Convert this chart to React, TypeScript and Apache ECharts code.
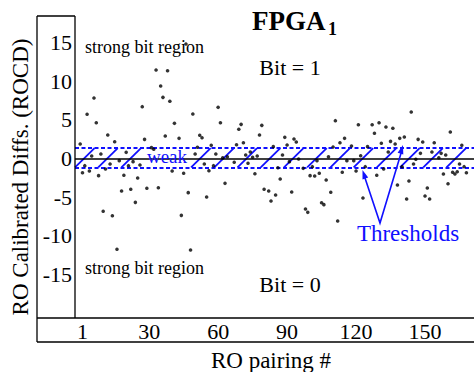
import React, { useEffect, useRef } from "react";
import * as echarts from "echarts";

// RO pairing number (x) and calibrated difference ROCD (y)
const roPairing = [
  0, 1, 2, 3, 4, 5, 6, 7, 8, 9,
  10, 11, 12, 13, 14, 15, 16, 17, 18, 19,
  20, 21, 22, 23, 24, 25, 26, 27, 28, 29,
  31, 32, 33, 34, 35, 36, 37, 38, 39, 40,
  41, 43, 44, 45, 46, 47, 48, 49, 50, 51,
  52, 53, 54, 55, 56, 57, 58, 59, 60, 61,
  62, 63, 64, 67, 68, 69, 70, 71, 72, 73,
  74, 75, 76, 77, 78, 79, 80, 82, 83, 84,
  85, 86, 87, 88, 89, 90, 91, 92, 93, 94,
  95, 97, 98, 99, 100, 101, 102, 103, 104, 105,
  106, 107, 108, 109, 110, 111, 112, 113, 114, 115,
  116, 118, 119, 120, 121, 122, 123, 124, 125, 127,
  128, 129, 130, 131, 132, 133, 134, 135, 136, 137,
  138, 139, 140, 141, 142, 143, 144, 145, 146, 147,
  148, 149, 150, 151, 152, 153, 154, 156, 157, 158,
  159, 160, 161, 162, 163, 164, 165, 166, 167, 168,
];
const rocd = [
  1.88, -1.84, -0.93, 5.72, -1.62, 0.32, 7.82, 4.63, -2.22, 0.58,
  -6.83, -1.36, 3.04, -0.71, -7.4, 2.17, -11.74, -0.28, -4.2, -2.17,
  0.8, -0.93, -3.98, -0.41, -5.67, -2.52, -0.84, 6.7, 2.48, -3.85,
  1.4, 1.19, 11.44, -3.78, 9.38, 7.91, 2.91, 11.35, 7.4, -1.62,
  4.55, 2.61, -7.35, -1.91, 14.81, -4.42, -11.83, 5.75, 0.58, 1.45,
  3.0, 2.69, -0.71, -4.98, -1.58, 1.71, -0.93, 0.58, 6.62, 4.63,
  0.1, -3.21, 0.23, -0.49, 1.78, 3.78, 4.42, 2.04, 0.45, -0.62,
  0.84, 0.16, -1.97, 0.32, 3.04, 4.29, -3.98, -4.2, -5.5, 1.53,
  -4.72, -1.19, -2.65, 0.45, 2.74, 1.75, -0.41, -4.33, 2.52, 2.13,
  -0.06, -1.27, -6.53, -6.96, -2.22, -1.06, -2.26, -0.28, -1.91, -5.72,
  -5.97, -2.78, 0.23, -4.37, 1.49, 4.89, -8.08, 2.04, -1.78, 2.61,
  -0.28, 1.62, -0.28, -1.62, 4.37, 0.36, -5.11, -1.06, 1.53, 4.37,
  3.26, -2.17, 4.63, 1.97, -1.36, 4.07, 0.84, 2.22, 3.91, 1.88,
  -3.43, 2.61, -1.06, 2.78, -5.24, -2.91, 6.01, -0.71, -0.1, 2.48,
  0.67, 2.13, -4.85, -3.81, -5.24, 0.84, 2.04, 0.1, 0.67, -2.0,
  0.45, -3.26, 3.43, -1.78, -2.0, -1.71, -0.71, 1.71, -1.06, -1.84,
];

const xTicks = [1, 30, 60, 90, 120, 150];
const yTicks = [-15, -10, -5, 0, 5, 10, 15];

const upperThreshold = 1.35;
const lowerThreshold = -1.15;

const X_MIN = -2.26;
const X_MAX = 171.3;
const Y_MIN = -20.63;
const Y_MAX = 18.43;

const SERIF = "Liberation Serif";
const BLUE = "#1010ff";

export default function App() {
  const ref = useRef<HTMLDivElement>(null);

  useEffect(() => {
    if (!ref.current) return;
    const chart = echarts.init(ref.current, undefined, { renderer: "svg" });

    const points = roPairing.map((x, i) => [x, rocd[i]]);

    // hatch pattern inside the weak band (decorative, period of 10.1 pairings)
    const hatch: any[] = [];
    for (let k = 0; k <= 16; k++) {
      if (k === 3 || k === 4) continue;
      const x0 = X_MIN + 10.1 * k;
      hatch.push({ coords: [[x0, lowerThreshold], [x0 + 8.5, upperThreshold]] });
    }

    const frame = { stroke: "#000", lineWidth: 1.3 };
    const txt = (x: number, y: number, text: string, size: number, extra: any = {}) => ({
      type: "text",
      x,
      y,
      z: 20,
      style: {
        text,
        fontFamily: SERIF,
        fontSize: size,
        fill: "#000",
        align: "center",
        verticalAlign: "middle",
        ...extra,
      },
    });

    const staticGraphic: any[] = [
      { type: "rect", z: 5, shape: { x: 141, y: 150, width: 50, height: 15 }, style: { fill: "#fff" } },
      txt(167, 156, "weak", 19, { fill: BLUE }),
      { type: "line", z: 20, shape: { x1: 37, y1: 16, x2: 75, y2: 16 }, style: frame },
      { type: "line", z: 20, shape: { x1: 37, y1: 16, x2: 37, y2: 342 }, style: frame },
      { type: "line", z: 20, shape: { x1: 75, y1: 16, x2: 75, y2: 318 }, style: frame },
      { type: "line", z: 20, shape: { x1: 37, y1: 318, x2: 474, y2: 318 }, style: frame },
      { type: "line", z: 20, shape: { x1: 37, y1: 342, x2: 474, y2: 342 }, style: frame },
      {
        type: "text",
        x: 20,
        y: 177,
        rotation: Math.PI / 2,
        z: 20,
        style: {
          text: "RO Calibrated Diffs. (ROCD)",
          fontFamily: SERIF,
          fontSize: 23,
          fill: "#000",
          align: "center",
          verticalAlign: "middle",
        },
      },
      txt(271, 360, "RO pairing #", 23),
      txt(252, 21, "FPGA", 27, { align: "left", fontWeight: "bold" }),
      txt(328, 29, "1", 18, { align: "left", fontWeight: "bold" }),
      txt(290, 67, "Bit = 1", 22),
      txt(290, 284, "Bit = 0", 22),
      txt(85, 47, "strong bit region", 18, { align: "left" }),
      txt(85, 268, "strong bit region", 18, { align: "left" }),
      txt(408, 233, "Thresholds", 23, { fill: BLUE }),
      {
        type: "polyline",
        z: 20,
        shape: { points: [[364, 175], [380, 223], [402, 150]] },
        style: { stroke: BLUE, lineWidth: 1.6, fill: null },
      },
      {
        type: "polygon",
        z: 20,
        shape: { points: [[362.5, 170], [368.2, 177.6], [362.5, 179.5]] },
        style: { fill: BLUE },
      },
      {
        type: "polygon",
        z: 20,
        shape: { points: [[403, 145], [403.3, 154.4], [397.6, 152.7]] },
        style: { fill: BLUE },
      },
    ];

    chart.setOption({
      animation: false,
      backgroundColor: "#fff",
      textStyle: { fontFamily: SERIF },
      grid: { left: 75, right: 0, top: 16, bottom: 54, containLabel: false },
      xAxis: {
        type: "value",
        min: X_MIN,
        max: X_MAX,
        axisLine: { show: false },
        axisTick: { show: false },
        splitLine: { show: false },
        axisLabel: { show: false },
      },
      yAxis: {
        type: "value",
        min: Y_MIN,
        max: Y_MAX,
        axisLine: { show: false },
        axisTick: { show: false },
        splitLine: { show: false },
        axisLabel: { show: false },
      },
      series: [
        {
          type: "line",
          data: [],
          z: 1,
          markLine: {
            silent: true,
            symbol: "none",
            label: { show: false },
            lineStyle: { color: "#000", type: "solid", width: 1.5 },
            data: [{ yAxis: 0 }],
          },
        },
        {
          type: "lines",
          coordinateSystem: "cartesian2d",
          z: 2,
          silent: true,
          lineStyle: { color: BLUE, width: 1.8, opacity: 1 },
          data: hatch,
        },
        {
          type: "line",
          data: [],
          z: 10,
          markLine: {
            silent: true,
            symbol: "none",
            label: { show: false },
            lineStyle: { color: BLUE, type: [4, 2.5], width: 1.8 },
            data: [{ yAxis: upperThreshold }, { yAxis: lowerThreshold }],
          },
        },
        {
          type: "scatter",
          z: 11,
          symbol: "circle",
          symbolSize: 3.6,
          itemStyle: { color: "#000" },
          data: points,
        },
      ],
      graphic: staticGraphic,
    });

    // tick labels placed through the axes' own scales
    const tickLabels: any[] = [];
    xTicks.forEach((v) => {
      const px = chart.convertToPixel({ xAxisIndex: 0 }, v) as number;
      tickLabels.push(txt(px, 331, String(v), 22));
    });
    yTicks.forEach((v) => {
      const py = chart.convertToPixel({ yAxisIndex: 0 }, v) as number;
      tickLabels.push(txt(72, py, String(v), 22, { align: "right" }));
    });
    chart.setOption({ graphic: [...staticGraphic, ...tickLabels] });

    return () => chart.dispose();
  }, []);

  return (
    <div
      ref={ref}
      style={{ position: "fixed", left: 0, top: 0, width: 474, height: 372, background: "#fff" }}
    />
  );
}
